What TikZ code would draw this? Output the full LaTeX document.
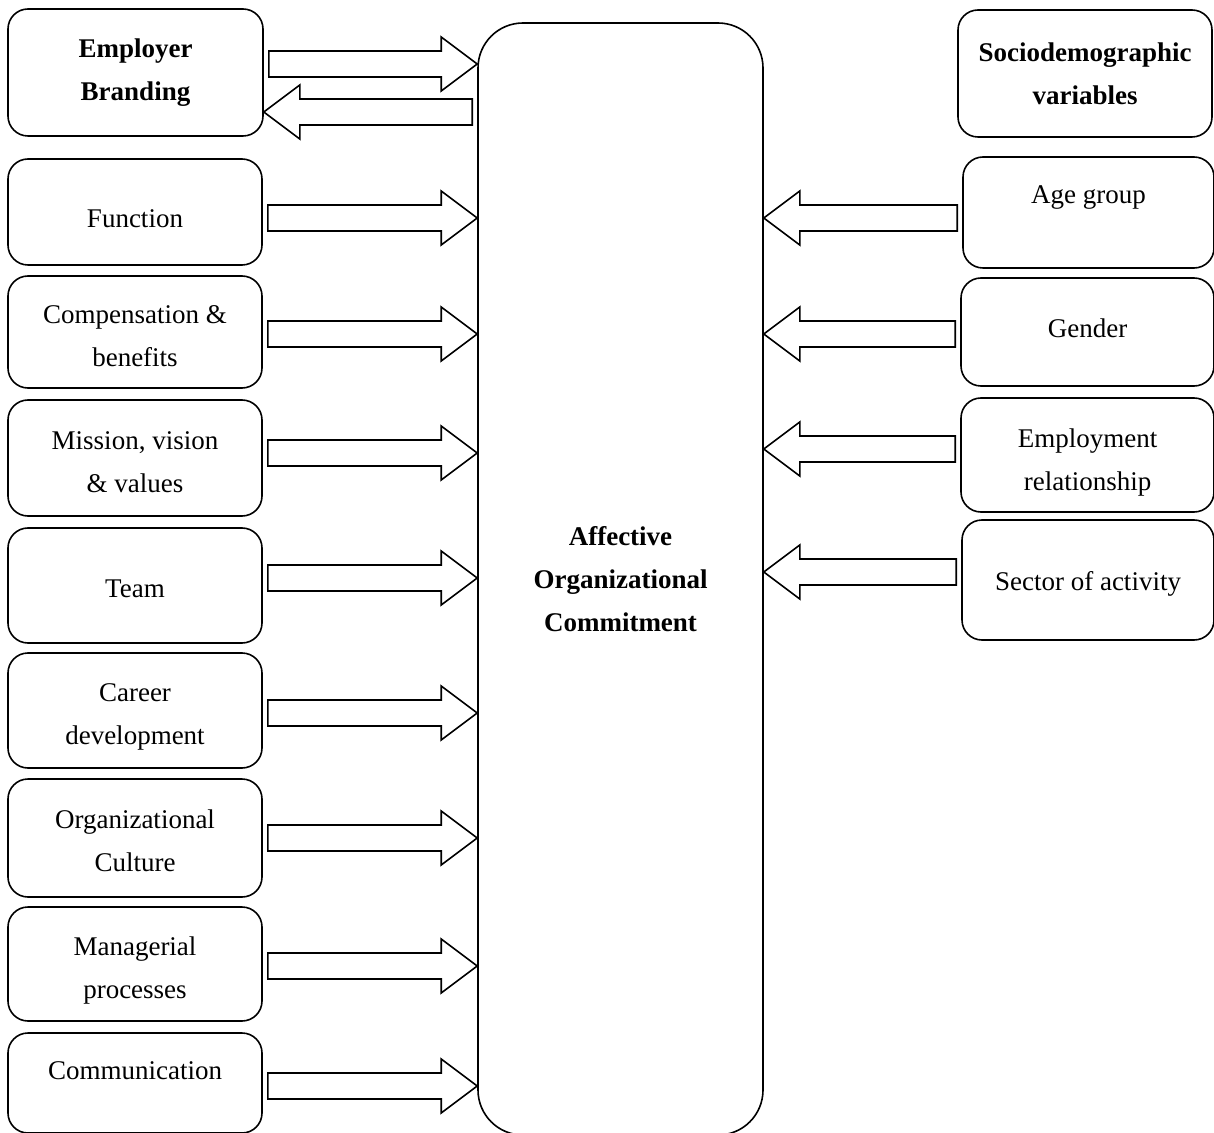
\documentclass[tikz,border=0pt]{standalone}
\usepackage{fontspec}
\setmainfont{Liberation Serif}
\usetikzlibrary{calc}
\tikzset{
  box/.style={draw, line width=0.8pt, rounded corners=10pt, align=center,
    inner sep=0pt, font=\fontsize{13.5}{21.5}\selectfont},
  boldbox/.style={box, font=\fontsize{13.5}{21.5}\selectfont\bfseries},
  blockarrow/.style={draw, line width=0.8pt, line join=miter, fill=white}
}
% hollow block arrow: from node, to node, row (y)
\newcommand\barrow[3]{%
  \draw[blockarrow] let \p1=(#1), \p2=(#2), \p3=(0,#3), \n1={sign(\x2-\x1)} in
    (\x1+\n1*2.5pt,\y3+6.5pt) -- (\x2-\n1*18pt,\y3+6.5pt) --
    (\x2-\n1*18pt,\y3+13.5pt) -- (\x2,\y3) --
    (\x2-\n1*18pt,\y3-13.5pt) -- (\x2-\n1*18pt,\y3-6.5pt) --
    (\x1+\n1*2.5pt,\y3-6.5pt) -- cycle;}

\begin{document}
\begin{tikzpicture}[x=0.5pt,y=-0.5pt]
\useasboundingbox (0,0) rectangle (1214,1133);

\node[boldbox, minimum width=142.5pt, minimum height=556pt, rounded corners=22.5pt]
  (aoc) at (620.5,579) {Affective\\Organizational\\Commitment};

\node[boldbox, minimum width=127.5pt, minimum height=63.5pt] (eb) at (135.5,72.5) {Employer\\Branding};
\node[box, minimum width=127pt, minimum height=53pt, text height=16pt] (fn) at (135,212) {Function};
\node[box, minimum width=127pt, minimum height=56pt, text height=35pt] (cb) at (135,332) {Compensation \&\\benefits};
\node[box, minimum width=127pt, minimum height=58pt, text height=35pt] (mv) at (135,458) {Mission, vision\\ \& values};
\node[box, minimum width=127pt, minimum height=57.5pt, text height=12pt] (tm) at (135,585.5) {Team};
\node[box, minimum width=127pt, minimum height=57.5pt, text height=36.5pt] (cd) at (135,710.5) {Career\\development};
\node[box, minimum width=127pt, minimum height=59pt, text height=33.5pt] (oc) at (135,838) {Organizational\\Culture};
\node[box, minimum width=127pt, minimum height=57pt, text height=37.5pt] (mp) at (135,964) {Managerial\\processes};
\node[box, minimum width=127pt, minimum height=50pt, text depth=12pt] (cm) at (135,1083) {Communication};

\node[boldbox, minimum width=127pt, minimum height=63.5pt] (sv) at (1085,73.5) {Sociodemographic\\variables};
\node[box, minimum width=125.5pt, minimum height=55.5pt, text depth=18pt] (ag) at (1088.5,212.5) {Age group};
\node[box, minimum width=126.5pt, minimum height=54pt, text depth=4pt] (gd) at (1087.5,332) {Gender};
\node[box, minimum width=126.5pt, minimum height=57pt, text height=38.5pt] (er) at (1087.5,455) {Employment\\relationship};
\node[box, minimum width=126pt, minimum height=60pt, text height=13pt] (sa) at (1088,580) {Sector of activity};

\barrow{eb.east}{aoc.west}{64}
\barrow{aoc.west}{eb.east}{112}
\barrow{fn.east}{aoc.west}{218}
\barrow{cb.east}{aoc.west}{334}
\barrow{mv.east}{aoc.west}{453}
\barrow{tm.east}{aoc.west}{578}
\barrow{cd.east}{aoc.west}{713}
\barrow{oc.east}{aoc.west}{838}
\barrow{mp.east}{aoc.west}{966}
\barrow{cm.east}{aoc.west}{1086}

\barrow{ag.west}{aoc.east}{218}
\barrow{gd.west}{aoc.east}{334}
\barrow{er.west}{aoc.east}{449}
\barrow{sa.west}{aoc.east}{572}
\end{tikzpicture}
\end{document}
